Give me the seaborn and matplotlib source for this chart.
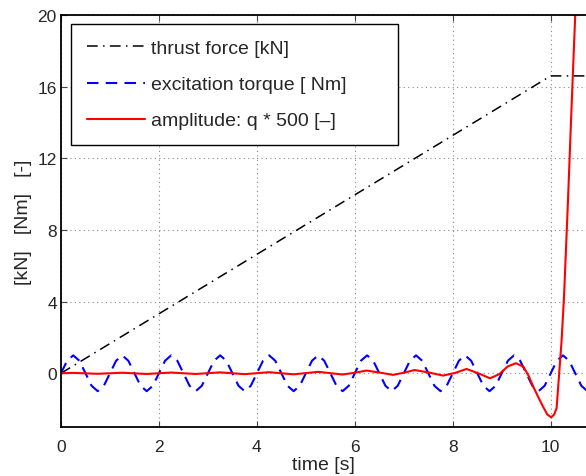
import numpy as np
import pandas as pd
import matplotlib
matplotlib.use("Agg")
import matplotlib.pyplot as plt
import seaborn as sns

# thrust force [kN]: linear ramp, then held
thrust_t = [0.0, 10.0, 10.75]
thrust_v = [0.0, 16.6, 16.6]

# excitation torque [Nm], read every 0.125 s
torque_step = 0.125
torque_v = [
    0, 0.7, 1, 0.7, 0, -0.7, -1, -0.7,
    0, 0.7, 1, 0.7, 0, -0.7, -1, -0.7,
    0, 0.7, 1, 0.7, 0, -0.7, -1, -0.7,
    0, 0.7, 1, 0.7, 0, -0.7, -1, -0.7,
    0, 0.7, 1, 0.7, 0, -0.7, -1, -0.7,
    0, 0.7, 1, 0.7, 0, -0.7, -1, -0.7,
    0, 0.7, 1, 0.7, 0, -0.7, -1, -0.7,
    0, 0.7, 1, 0.7, 0, -0.7, -1, -0.7,
    0, 0.7, 1, 0.7, 0, -0.7, -1, -0.7,
    0, 0.7, 1, 0.7, 0, -0.7, -1, -0.7,
    0, 0.7, 1, 0.7, 0, -0.7, -1,
]

# amplitude q * 500 [-]
amp_t = [0.0, 0.25, 0.75, 1.25, 1.75, 2.25, 2.75, 3.25, 3.75, 4.25, 4.75,
         5.25, 5.75, 6.0, 6.24, 6.5, 6.78, 7.0, 7.22, 7.5, 7.8, 8.05, 8.28,
         8.52, 8.76, 8.95, 9.12, 9.29, 9.44, 9.55, 9.64, 9.74, 9.84, 9.93,
         10.01, 10.07, 10.12, 10.17, 10.22, 10.27, 10.35, 10.42, 10.5, 10.6]
amp_v = [0.0, 0.02, -0.03, 0.03, -0.04, 0.04, -0.04, 0.05, -0.05, 0.06, -0.06,
         0.08, -0.07, 0.03, 0.15, 0.04, -0.09, 0.03, 0.18, 0.05, -0.13, 0.02, 0.24,
         0.0, -0.28, -0.05, 0.38, 0.56, 0.37, -0.15, -0.73, -1.3, -1.85, -2.3,
         -2.46, -2.3, -1.94, -0.09, 1.76, 4.2, 9.5, 14.5, 20.0, 26.0]

torque_t = np.arange(len(torque_v)) * torque_step

sns.set_style("ticks")
plt.rcParams["font.family"] = ["Liberation Sans", "DejaVu Sans"]

fig = plt.figure(figsize=(5.86, 4.77), dpi=100)
ax = fig.add_axes([61 / 586, 49 / 477, 525 / 586, 412 / 477])

sns.lineplot(x=thrust_t, y=thrust_v, ax=ax, color="black", lw=1.1,
             linestyle=(0, (7, 3.5, 1, 3.5)), label="thrust force [kN]")
sns.lineplot(x=torque_t, y=torque_v, ax=ax, color="#0000ff", lw=1.5,
             linestyle=(0, (5.5, 3.5)), label="excitation torque [ Nm]")
sns.lineplot(x=amp_t, y=amp_v, ax=ax, color="#ff0000", lw=1.5,
             label="amplitude: q * 500 [\u2013]")

ax.set_xlim(0, 10.72)
ax.set_ylim(-3, 20)
ax.set_xticks([0, 2, 4, 6, 8, 10])
ax.set_yticks([0, 4, 8, 12, 16, 20])
ax.grid(True, linestyle=(0, (1, 3)), color="#888888", lw=0.8)
ax.tick_params(direction="in", length=4, width=0.8, labelsize=12.5,
               top=True, right=False, color="#444444")
ax.tick_params(axis="x", pad=9)
ax.tick_params(axis="y", pad=3)
for side in ["left", "bottom", "top"]:
    ax.spines[side].set_linewidth(1.3)
    ax.spines[side].set_color("black")
ax.spines["right"].set_visible(False)

ax.set_xlabel("time [s]", fontsize=14, labelpad=1)
ax.set_ylabel("[kN]   [Nm]   [-]", fontsize=14, labelpad=4)

leg = ax.legend(loc="upper left", bbox_to_anchor=(0.019, 0.978, 0.623, 0.0),
                mode="expand", fontsize=14, handlelength=3.0,
                handletextpad=0.3, labelspacing=0.95, borderpad=0.8,
                borderaxespad=0, fancybox=False, framealpha=1)
leg.get_frame().set_edgecolor("black")
leg.get_frame().set_linewidth(1.0)

fig.savefig("out.png", dpi=100)
